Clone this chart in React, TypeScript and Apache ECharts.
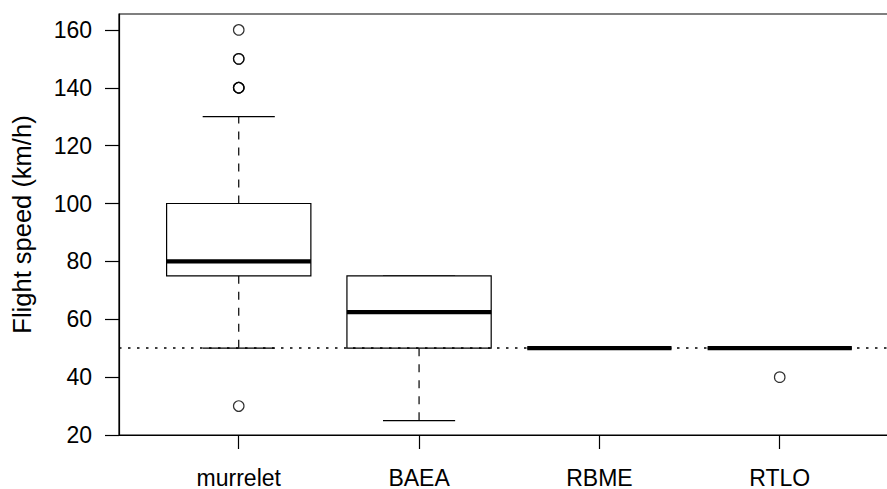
import React, { useEffect, useRef } from "react";
import * as echarts from "echarts";

const categories = ["murrelet", "BAEA", "RBME", "RTLO"];
const positions = [1, 2, 3, 4];
const whiskerLow = [50, 25, 50, 50];
const quartile1 = [75, 50, 50, 50];
const medians = [80, 62.5, 50, 50];
const quartile3 = [100, 75, 50, 50];
const whiskerHigh = [130, 75, 50, 50];
const outlierGroup = [1, 1, 1, 1, 1, 1, 1, 4];
const outlierValues = [160, 150, 150, 140, 140, 140, 30, 40];
const yTicks = [20, 40, 60, 80, 100, 120, 140, 160];
const referenceSpeed = 50;

const FONT = "'Liberation Sans', Arial, Helvetica, sans-serif";

export default function App() {
  const ref = useRef<HTMLDivElement>(null);
  useEffect(() => {
    if (!ref.current) return;
    const chart = echarts.init(ref.current, null, { renderer: "svg" });
    const boxData = positions.map((p, i) => [
      p,
      whiskerLow[i],
      quartile1[i],
      medians[i],
      quartile3[i],
      whiskerHigh[i],
    ]);
    const outliers = outlierValues.map((v, i) => [outlierGroup[i], v]);
    const lineStyle = { stroke: "#000", lineWidth: 1.2, fill: "none" };
    const option: any = {
      animation: false,
      backgroundColor: "#fff",
      textStyle: { fontFamily: FONT },
      grid: {
        left: 119,
        top: 14,
        bottom: 54,
        right: 6,
        show: true,
        borderColor: "#000",
        borderWidth: 1.2,
        backgroundColor: "transparent",
      },
      xAxis: {
        type: "value",
        min: 0.336,
        max: 4.606,
        splitLine: { show: false },
        axisLine: { show: true, lineStyle: { color: "#000", width: 1.2 } },
        axisTick: {
          show: true,
          length: 14,
          customValues: positions,
          lineStyle: { color: "#000", width: 1.2 },
        },
        axisLabel: {
          customValues: positions,
          formatter: (v: number) => categories[Math.round(v) - 1] ?? "",
          color: "#000",
          fontSize: 23,
          fontFamily: FONT,
          margin: 31,
        },
      },
      yAxis: {
        type: "value",
        min: 20,
        max: 165.5,
        name: "Flight speed (km/h)",
        nameLocation: "middle",
        nameRotate: 90,
        nameGap: 84,
        nameTextStyle: { color: "#000", fontSize: 25.5, fontFamily: FONT },
        splitLine: { show: false },
        axisLine: { show: true, lineStyle: { color: "#000", width: 1.2 } },
        axisTick: {
          show: true,
          length: 14,
          customValues: yTicks,
          lineStyle: { color: "#000", width: 1.2 },
        },
        axisLabel: {
          customValues: yTicks,
          color: "#000",
          fontSize: 23,
          fontFamily: FONT,
          margin: 27,
        },
      },
      series: [
        {
          type: "custom",
          data: boxData,
          encode: { x: 0, y: [1, 2, 3, 4, 5] },
          renderItem: (params: any, api: any) => {
            const x = api.value(0);
            const lo = api.value(1);
            const q1 = api.value(2);
            const med = api.value(3);
            const q3 = api.value(4);
            const hi = api.value(5);
            const c = (dx: number, v: number) => api.coord([x + dx, v]);
            const boxL = c(-0.4, q3);
            const boxR = c(0.4, q1);
            const children: any[] = [];
            children.push({
              type: "line",
              shape: { x1: c(0, q3)[0], y1: c(0, q3)[1], x2: c(0, hi)[0], y2: c(0, hi)[1] },
              style: { ...lineStyle, lineDash: [8, 8] },
            });
            children.push({
              type: "line",
              shape: { x1: c(0, q1)[0], y1: c(0, q1)[1], x2: c(0, lo)[0], y2: c(0, lo)[1] },
              style: { ...lineStyle, lineDash: [8, 8] },
            });
            children.push({
              type: "line",
              shape: { x1: c(-0.2, hi)[0], y1: c(-0.2, hi)[1], x2: c(0.2, hi)[0], y2: c(0.2, hi)[1] },
              style: lineStyle,
            });
            children.push({
              type: "line",
              shape: { x1: c(-0.2, lo)[0], y1: c(-0.2, lo)[1], x2: c(0.2, lo)[0], y2: c(0.2, lo)[1] },
              style: lineStyle,
            });
            children.push({
              type: "rect",
              shape: {
                x: boxL[0],
                y: boxL[1],
                width: boxR[0] - boxL[0],
                height: boxR[1] - boxL[1],
              },
              style: { stroke: "#000", lineWidth: 1.2, fill: "#fff" },
            });
            children.push({
              type: "line",
              shape: { x1: c(-0.4, med)[0], y1: c(-0.4, med)[1], x2: c(0.4, med)[0], y2: c(0.4, med)[1] },
              style: { stroke: "#000", lineWidth: 4.2 },
            });
            return { type: "group", children };
          },
          markLine: {
            silent: true,
            symbol: "none",
            label: { show: false },
            lineStyle: { color: "#000", width: 1.6, type: [2.5, 6.5] },
            data: [{ yAxis: referenceSpeed }],
            z: 10,
          },
          z: 2,
        },
        {
          type: "scatter",
          data: outliers,
          symbol: "circle",
          symbolSize: 10.5,
          itemStyle: { color: "rgba(0,0,0,0)", borderColor: "#000", borderWidth: 1.2 },
          z: 3,
        },
      ],
    };
    chart.setOption(option);
    return () => chart.dispose();
  }, []);
  return (
    <div
      ref={ref}
      style={{ position: "fixed", left: 0, top: 0, width: 895, height: 489, background: "#fff" }}
    />
  );
}
